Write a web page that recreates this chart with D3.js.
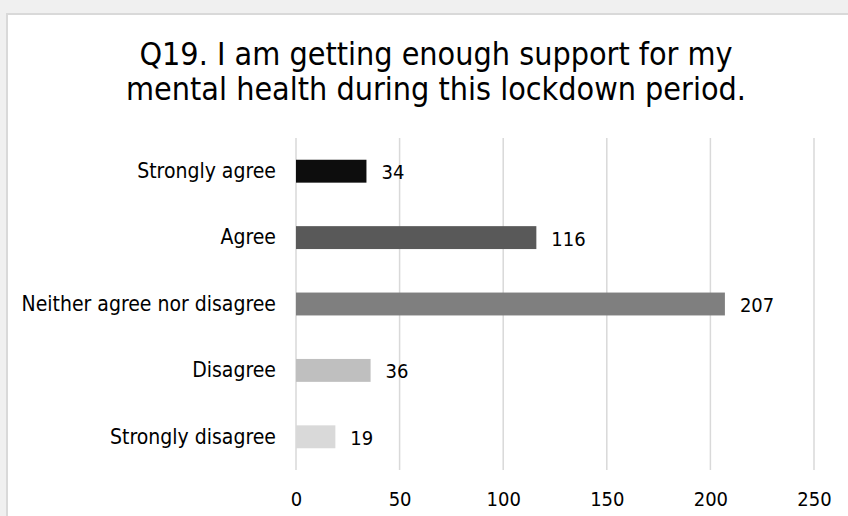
<!DOCTYPE html>
<html>
<head>
<meta charset="utf-8">
<script src="https://cdn.jsdelivr.net/npm/d3@7"></script>
<style>
  html, body { margin: 0; background: #f0f0f0; overflow: hidden; }
  svg { display: block; }
</style>
</head>
<body>
<div id="canvas"></div>
<script>
// Datos de la grafica
const categories = ["Strongly agree", "Agree", "Neither agree nor disagree", "Disagree", "Strongly disagree"];
const values = [34, 116, 207, 36, 19];
const barColors = ["#0d0d0d", "#595959", "#7f7f7f", "#bfbfbf", "#d9d9d9"];
const xTicks = [0, 50, 100, 150, 200, 250];
const titleLines = ["Q19. I am getting enough support for my", "mental health during this lockdown period."];

const width = 848;
const height = 516;
const margin = {top: 138, left: 296};
const iwidth = 518;
const iheight = 332;
const font = "'DejaVu Sans Condensed', 'DejaVu Sans', sans-serif";

const svg = d3.select("#canvas").append("svg")
    .attr("width", width)
    .attr("height", height);

// Fondo y marco del grafico
svg.append("rect")
    .attr("x", 0).attr("y", 0)
    .attr("width", width).attr("height", height)
    .attr("fill", "#f0f0f0");

svg.append("rect")
    .attr("x", 7).attr("y", 14)
    .attr("width", 870).attr("height", 530)
    .attr("fill", "#ffffff")
    .attr("stroke", "#d9d9d9")
    .attr("stroke-width", 2);

const g = svg.append("g").attr("transform", `translate(${margin.left}, ${margin.top})`);

const x = d3.scaleLinear()
    .domain([0, 250])
    .range([0, iwidth]);

const y = d3.scaleBand()
    .domain(categories)
    .range([0, iheight])
    .paddingInner(0.655)
    .paddingOuter(0.3275);

// Lineas de cuadricula verticales
g.append("g")
    .selectAll("line")
    .data(xTicks)
    .enter().append("line")
    .attr("x1", d => x(d)).attr("x2", d => x(d))
    .attr("y1", 0).attr("y2", iheight)
    .attr("stroke", "#d9d9d9")
    .attr("stroke-width", 1.5);

// Barras
g.selectAll("rect.bar")
    .data(values)
    .enter().append("rect")
    .attr("class", "bar")
    .attr("x", x(0))
    .attr("y", (d, i) => y(categories[i]))
    .attr("width", d => x(d) - x(0))
    .attr("height", y.bandwidth())
    .attr("fill", (d, i) => barColors[i]);

// Etiquetas de valores
g.selectAll("text.value")
    .data(values)
    .enter().append("text")
    .attr("class", "value")
    .attr("x", d => x(d) + 15)
    .attr("y", (d, i) => y(categories[i]) + y.bandwidth() / 2)
    .attr("dy", "0.4em")
    .style("font-family", font)
    .style("font-size", "20px")
    .attr("fill", "#000")
    .text(d => d);

// Eje y (categorias)
const yAxis = g.append("g")
    .call(d3.axisLeft(y).tickSize(0).tickPadding(20));
yAxis.select(".domain").remove();
yAxis.selectAll("text")
    .style("font-family", font)
    .style("font-size", "21px")
    .attr("fill", "#000");

// Eje x
const xAxis = g.append("g")
    .attr("transform", `translate(0, ${iheight})`)
    .call(d3.axisBottom(x).tickValues(xTicks).tickSize(0).tickPadding(22));
xAxis.select(".domain").remove();
xAxis.selectAll("text")
    .style("font-family", font)
    .style("font-size", "20px")
    .attr("fill", "#000");

// Titulo
svg.append("g").selectAll("text")
    .data(titleLines)
    .enter().append("text")
    .attr("x", 436)
    .attr("y", (d, i) => 65 + i * 35)
    .attr("text-anchor", "middle")
    .style("font-family", font)
    .style("font-size", "32px")
    .attr("fill", "#000")
    .text(d => d);
</script>
</body>
</html>
